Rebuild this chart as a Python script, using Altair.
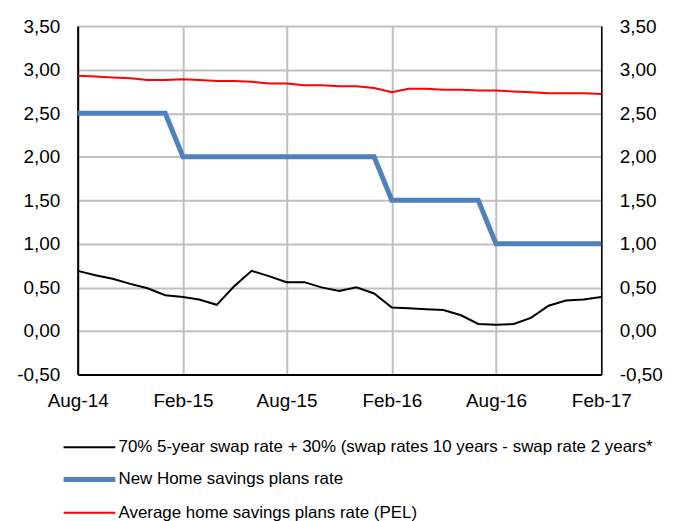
import altair as alt
import pandas as pd

months = pd.date_range("2014-08-01", "2017-02-01", freq="MS").strftime("%Y-%m-%d").tolist()

swap_mix = [0.69, 0.64, 0.60, 0.54, 0.49, 0.41, 0.39, 0.36, 0.30, 0.51, 0.69, 0.63,
            0.56, 0.56, 0.50, 0.46, 0.50, 0.43, 0.27, 0.26, 0.25, 0.24, 0.18, 0.08,
            0.07, 0.08, 0.15, 0.29, 0.35, 0.36, 0.39]
new_pel = [2.5] * 6 + [2.0] * 12 + [1.5] * 6 + [1.0] * 7
avg_pel = [2.93, 2.92, 2.91, 2.90, 2.88, 2.88, 2.89, 2.88, 2.87, 2.87, 2.86, 2.84,
           2.84, 2.82, 2.82, 2.81, 2.81, 2.79, 2.74, 2.78, 2.78, 2.77, 2.77, 2.76,
           2.76, 2.75, 2.74, 2.73, 2.73, 2.73, 2.72]

series_names = [
    "70% 5-year swap rate + 30% (swap rates 10 years - swap rate 2 years*",
    "New Home savings plans rate",
    "Average home savings plans rate (PEL)",
]
series_colors = ["#000000", "#4f81bd", "#ff0000"]
series_widths = [2, 5, 2]

tick_dates = ["2014-08-01", "2015-02-01", "2015-08-01", "2016-02-01", "2016-08-01", "2017-02-01"]
y_ticks = [-0.5, 0, 0.5, 1.0, 1.5, 2.0, 2.5, 3.0, 3.5]

rows = []
for name, vals in zip(series_names, [swap_mix, new_pel, avg_pel]):
    for m, v in zip(months, vals):
        rows.append({"month": m, "value": v, "series": name})
df = pd.DataFrame(rows)

tick_ms = [int(pd.Timestamp(d).value // 10**6) for d in tick_dates]
x_min = tick_ms[0]
x_max = tick_ms[-1]

label_expr = "(datum.value < 0 ? '-' : '') + replace(format(abs(datum.value), '.2f'), '.', ',')"

FONT = "Liberation Sans"
AX_FS = 19

x_enc = alt.X("month:T",
              scale=alt.Scale(type="utc", domain=[x_min, x_max], nice=False),
              axis=alt.Axis(values=tick_ms, format="%b-%y", title=None, grid=True,
                            gridColor="#c0c0c0", gridWidth=2, ticks=False,
                            domainColor="#000000", domainWidth=2,
                            labelFontSize=AX_FS, labelPadding=17, labelFont=FONT,
                            labelColor="#000000", labelFlush=False, labelOverlap=False))

legend_common = dict(title=None, orient="none", legendX=-17, legendY=413,
                     direction="vertical", symbolType="M-1,0H5",
                     symbolSize=300, labelFontSize=17, labelFont=FONT,
                     labelColor="#000000", labelLimit=700,
                     rowPadding=13, labelOffset=35)

base = alt.Chart(df)

lines = base.mark_line(strokeJoin="miter", strokeCap="butt").encode(
    x=x_enc,
    y=alt.Y("value:Q",
            scale=alt.Scale(domain=[-0.5, 3.5], nice=False, zero=False),
            axis=alt.Axis(values=y_ticks, labelExpr=label_expr, title=None, grid=True,
                          gridColor="#c0c0c0", gridWidth=2, ticks=False,
                          domainColor="#000000", domainWidth=2,
                          labelFontSize=AX_FS, labelPadding=18, labelFont=FONT,
                          labelColor="#000000")),
    color=alt.Color("series:N",
                    scale=alt.Scale(domain=series_names, range=series_colors),
                    legend=alt.Legend(**legend_common)),
    strokeWidth=alt.StrokeWidth("series:N",
                                scale=alt.Scale(type="ordinal", domain=series_names, range=series_widths),
                                legend=alt.Legend(**legend_common)),
    order=alt.Order("month:T"),
)

right_axis = base.mark_line(opacity=0).encode(
    x=x_enc,
    y=alt.Y("value:Q",
            scale=alt.Scale(domain=[-0.5, 3.5], nice=False, zero=False),
            axis=alt.Axis(orient="right", values=y_ticks, labelExpr=label_expr, title=None,
                          grid=False, ticks=False, domainColor="#000000", domainWidth=1.5,
                          labelFontSize=AX_FS, labelPadding=18, labelFont=FONT,
                          labelColor="#000000")),
    detail="series:N",
)

chart = alt.layer(right_axis, lines).resolve_scale(y="independent").properties(
    width=526, height=350,
    autosize=alt.AutoSizeParams(type="none"),
    padding={"left": 70, "top": 17, "right": 64, "bottom": 146},
).configure_view(stroke="#595959", strokeWidth=1).configure(background="white")

chart.save("out.html", embed_options={"renderer": "svg", "actions": False})
